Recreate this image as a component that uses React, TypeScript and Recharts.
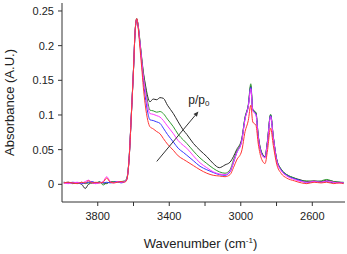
import { LineChart, Line, XAxis, YAxis, ReferenceLine, ReferenceDot } from "recharts";

// wavenumber grid (cm-1), descending
const wavenumbers = [
  3990, 3965, 3940, 3915, 3890, 3870, 3852, 3830, 3810, 3790, 3770, 3750,
  3730, 3710, 3690, 3670, 3650, 3638, 3625, 3612, 3600, 3591, 3582, 3574,
  3566, 3554, 3545, 3535, 3520, 3508, 3490, 3470, 3452, 3433, 3410, 3377,
  3350, 3321, 3302, 3265, 3228, 3190, 3154, 3120, 3088, 3060, 3041, 3023,
  2995, 2976, 2958, 2944, 2933, 2915, 2902, 2883, 2864, 2852, 2833, 2818,
  2799, 2775, 2743, 2700, 2660, 2631, 2590, 2550, 2520, 2480, 2450, 2425,
];

const absBlack = [
  0.002, 0.003, 0.001, 0.002, 0.0, -0.006, 0.0, 0.002, 0.001, 0.003, 0.002, 0.001,
  0.004, 0.003, 0.004, 0.003, 0.004, 0.008, 0.035, 0.1, 0.165, 0.22, 0.239, 0.228,
  0.21, 0.182, 0.162, 0.146, 0.126, 0.119, 0.123, 0.122, 0.125, 0.124, 0.114, 0.102,
  0.09, 0.078, 0.072, 0.059, 0.049, 0.04, 0.03, 0.024, 0.028, 0.032, 0.04, 0.05,
  0.065, 0.096, 0.113, 0.142, 0.108, 0.103, 0.07, 0.046, 0.04, 0.06, 0.1, 0.068,
  0.036, 0.022, 0.014, 0.009, 0.006, 0.004, 0.005, 0.004, 0.006, 0.004, 0.003, 0.002,
];

const absGreen = [
  0.003, 0.002, 0.002, 0.001, 0.003, 0.001, 0.002, 0.003, 0.002, 0.004, -0.001, 0.002,
  0.003, 0.004, 0.003, 0.004, 0.005, 0.008, 0.037, 0.102, 0.167, 0.221, 0.238, 0.23,
  0.212, 0.18, 0.16, 0.142, 0.118, 0.107, 0.106, 0.104, 0.105, 0.102, 0.094, 0.083,
  0.072, 0.064, 0.059, 0.048, 0.038, 0.03, 0.023, 0.018, 0.016, 0.021, 0.035, 0.047,
  0.064, 0.097, 0.115, 0.145, 0.108, 0.103, 0.069, 0.045, 0.04, 0.059, 0.101, 0.069,
  0.036, 0.022, 0.014, 0.009, 0.005, 0.005, 0.004, 0.005, 0.007, 0.004, 0.003, 0.003,
];

const absBlue = [
  0.003, 0.002, 0.003, 0.002, 0.001, 0.002, 0.003, 0.004, 0.002, 0.003, 0.002, 0.003,
  0.002, 0.003, 0.004, 0.002, 0.004, 0.007, 0.036, 0.101, 0.166, 0.22, 0.237, 0.228,
  0.208, 0.175, 0.15, 0.128, 0.103, 0.093, 0.092, 0.09, 0.088, 0.081, 0.072, 0.061,
  0.052, 0.046, 0.042, 0.034, 0.026, 0.021, 0.017, 0.014, 0.013, 0.018, 0.031, 0.045,
  0.062, 0.095, 0.113, 0.14, 0.107, 0.101, 0.068, 0.044, 0.039, 0.058, 0.099, 0.068,
  0.035, 0.021, 0.013, 0.008, 0.005, 0.002, 0.004, 0.003, 0.004, 0.002, 0.003, 0.002,
];

const absMagenta = [
  0.002, 0.001, 0.002, 0.003, 0.002, 0.004, 0.006, 0.002, 0.001, 0.002, 0.004, 0.011,
  0.004, 0.002, 0.004, 0.003, 0.004, 0.007, 0.036, 0.101, 0.166, 0.221, 0.238, 0.229,
  0.21, 0.178, 0.156, 0.137, 0.112, 0.102, 0.101, 0.099, 0.097, 0.092, 0.084, 0.073,
  0.063, 0.056, 0.052, 0.041, 0.031, 0.024, 0.018, 0.015, 0.014, 0.019, 0.032, 0.045,
  0.062, 0.094, 0.112, 0.138, 0.106, 0.1, 0.067, 0.043, 0.038, 0.057, 0.098, 0.067,
  0.034, 0.02, 0.012, 0.007, 0.004, 0.003, 0.004, 0.003, 0.005, 0.003, 0.002, 0.002,
];

const absRed = [
  0.002, 0.003, 0.002, 0.001, 0.003, 0.002, 0.005, 0.002, 0.003, 0.002, 0.003, 0.009,
  0.003, 0.002, 0.003, 0.004, 0.003, 0.006, 0.035, 0.1, 0.166, 0.221, 0.239, 0.226,
  0.203, 0.168, 0.14, 0.116, 0.092, 0.083, 0.08, 0.076, 0.073, 0.066, 0.058, 0.049,
  0.041, 0.036, 0.033, 0.027, 0.021, 0.016, 0.013, 0.012, 0.011, 0.014, 0.024, 0.035,
  0.048, 0.076, 0.092, 0.114, 0.09, 0.085, 0.058, 0.036, 0.03, 0.046, 0.081, 0.056,
  0.029, 0.016, 0.009, 0.005, 0.002, 0.001, 0.003, 0.002, 0.003, 0.001, 0.002, 0.001,
];

const xTicks = [3800, 3600, 3400, 3200, 3000, 2800, 2600];
const xLabelled = [3800, 3400, 3000, 2600];
const yTicks = [0, 0.05, 0.1, 0.15, 0.2, 0.25];

// arrow annotation (data coordinates)
const arrowFrom = { x: 3470, y: 0.033 };
const arrowTo = { x: 3237, y: 0.105 };
const arrowLabel = { x: 3234, y: 0.121 };

const series = [
  { key: "black", values: absBlack, color: "#2a2a2a" },
  { key: "green", values: absGreen, color: "#2f9a2f" },
  { key: "blue", values: absBlue, color: "#3838ff" },
  { key: "magenta", values: absMagenta, color: "#ff38ff" },
  { key: "red", values: absRed, color: "#ff3535" },
];

const data = wavenumbers.map((wn, i) => {
  const row: Record<string, number> = { wn };
  series.forEach((s) => (row[s.key] = s.values[i]));
  return row;
});

const FONT = "'Liberation Sans', Arial, sans-serif";

const Arrow = (props: any) => {
  const { x1, y1, x2, y2 } = props;
  const a = Math.atan2(y2 - y1, x2 - x1);
  const len = 5;
  const w = 2.2;
  const bx = x2 - len * Math.cos(a);
  const by = y2 - len * Math.sin(a);
  const pts = [
    `${x2},${y2}`,
    `${bx + w * Math.sin(a)},${by - w * Math.cos(a)}`,
    `${bx - w * Math.sin(a)},${by + w * Math.cos(a)}`,
  ].join(" ");
  return (
    <g>
      <line x1={x1} y1={y1} x2={bx} y2={by} stroke="#333" strokeWidth={1} />
      <polygon points={pts} fill="#333" />
    </g>
  );
};

const PLabel = (props: any) => {
  const { cx, cy } = props;
  return (
    <text x={cx} y={cy} textAnchor="middle" dominantBaseline="central" fontFamily={FONT} fontSize={12} fill="#222">
      p/p
      <tspan fontSize={8} dy={3}>0</tspan>
    </text>
  );
};

const XTitle = (props: any) => {
  const vb = props.viewBox;
  return (
    <text x={vb.x + vb.width / 2 - 3} y={vb.y + 46} textAnchor="middle" fontFamily={FONT} fontSize={13} fill="#222">
      Wavenumber (cm
      <tspan fontSize={8} dy={-5}>-1</tspan>
      <tspan dy={5}>)</tspan>
    </text>
  );
};

const YTitle = (props: any) => {
  const vb = props.viewBox;
  const cx = 9;
  const cy = vb.y + vb.height / 2;
  return (
    <text
      x={cx}
      y={cy}
      transform={`rotate(-90 ${cx} ${cy})`}
      textAnchor="middle"
      dominantBaseline="central"
      fontFamily={FONT}
      fontSize={13}
      fill="#222"
    >
      Absorbance (A.U.)
    </text>
  );
};

export default function App() {
  return (
    <div style={{ position: "absolute", left: 0, top: 0, background: "#fff" }}>
      <LineChart width={347} height={254} data={data} margin={{ top: 3, right: 2, bottom: 0, left: 0 }}>
        <XAxis
          dataKey="wn"
          type="number"
          domain={[2417, 4000]}
          reversed
          allowDataOverflow
          ticks={xTicks}
          tickFormatter={(v: number) => (xLabelled.includes(v) ? String(v) : "")}
          height={52}
          tickSize={4}
          tickMargin={6}
          stroke="#333"
          tick={{ fontSize: 11, fill: "#222", fontFamily: FONT }}
          label={<XTitle />}
        />
        <YAxis
          type="number"
          domain={[-0.0255, 0.2615]}
          allowDataOverflow
          ticks={yTicks}
          width={62}
          tickSize={4}
          tickMargin={4}
          stroke="#333"
          tick={{ fontSize: 11, fill: "#222", fontFamily: FONT }}
          label={<YTitle />}
        />
        {series.map((s) => (
          <Line
            key={s.key}
            dataKey={s.key}
            type="monotone"
            stroke={s.color}
            strokeWidth={1}
            dot={false}
            isAnimationActive={false}
          />
        ))}
        <ReferenceLine
          segment={[arrowFrom, arrowTo]}
          stroke="#333"
          shape={Arrow}
        />
        <ReferenceDot x={arrowLabel.x} y={arrowLabel.y} r={0} shape={PLabel} />
      </LineChart>
    </div>
  );
}
